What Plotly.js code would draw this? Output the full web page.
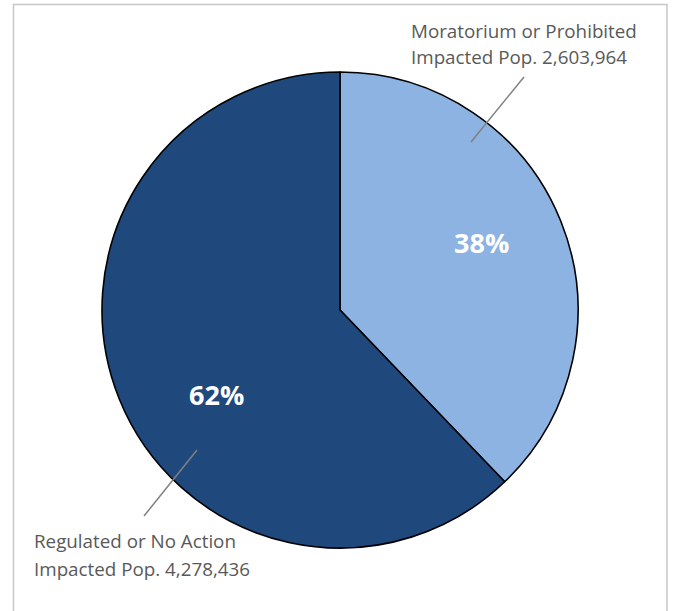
<!DOCTYPE html>
<html>
<head>
<meta charset="utf-8">
<script src="https://cdn.plot.ly/plotly-3.0.1.min.js"></script>
<style>html,body{margin:0;padding:0;background:#fff;}#chart{width:673px;height:611px;}</style>
</head>
<body>
<div id="chart"></div>
<script>
const categories = ["Moratorium or Prohibited", "Regulated or No Action"];
const populations = [2603964, 4278436];
const sliceColors = ["#8DB3E2", "#1F497D"];

const W = 673, H = 611;
const px = x => x / W;
const py = y => 1 - y / H;

const total = populations.reduce((a, b) => a + b, 0);
const pct = populations.map(v => Math.round(v / total * 100) + "%");
const fmt = v => v.toLocaleString("en-US");

const trace = {
  type: "pie",
  values: populations,
  labels: categories,
  sort: false,
  direction: "clockwise",
  rotation: 0,
  textinfo: "none",
  hoverinfo: "none",
  marker: { colors: sliceColors, line: { color: "#000000", width: 1.6 } },
  domain: { x: [px(102), px(578)], y: [py(548), py(72)] },
  showlegend: false
};

const labelFont = { family: "Open Sans, sans-serif", size: 18.8, color: "#595959" };
const pctFont = { family: "Open Sans, sans-serif", size: 27, color: "#ffffff", weight: 700 };

const annotations = [
  { x: px(409), y: py(31), text: categories[0], xanchor: "left", yanchor: "middle", font: labelFont },
  { x: px(409), y: py(57), text: "Impacted Pop. " + fmt(populations[0]), xanchor: "left", yanchor: "middle", font: labelFont },
  { x: px(32), y: py(541), text: categories[1], xanchor: "left", yanchor: "middle", font: labelFont },
  { x: px(32), y: py(569), text: "Impacted Pop. " + fmt(populations[1]), xanchor: "left", yanchor: "middle", font: labelFont },
  { x: px(481), y: py(243), text: "<b>" + pct[0] + "</b>", xanchor: "center", yanchor: "middle", font: pctFont },
  { x: px(216), y: py(394), text: "<b>" + pct[1] + "</b>", xanchor: "center", yanchor: "middle", font: pctFont }
].map(a => Object.assign({ xref: "paper", yref: "paper", showarrow: false }, a));

const shapes = [
  { type: "rect", xref: "paper", yref: "paper", x0: px(13.5), x1: px(667), y0: py(640), y1: py(4.5),
    line: { color: "#c8c8c8", width: 1.5 }, fillcolor: "rgba(0,0,0,0)", layer: "below" },
  { type: "line", xref: "paper", yref: "paper", x0: px(524), y0: py(77), x1: px(471), y1: py(142),
    line: { color: "#808080", width: 1.5 } },
  { type: "line", xref: "paper", yref: "paper", x0: px(197), y0: py(450), x1: px(144), y1: py(516),
    line: { color: "#808080", width: 1.5 } }
];

const layout = {
  width: W, height: H,
  margin: { l: 0, r: 0, t: 0, b: 0 },
  paper_bgcolor: "#ffffff",
  plot_bgcolor: "#ffffff",
  showlegend: false,
  annotations: annotations,
  shapes: shapes
};

Plotly.newPlot("chart", [trace], layout, { staticPlot: true, displayModeBar: false });
</script>
</body>
</html>
